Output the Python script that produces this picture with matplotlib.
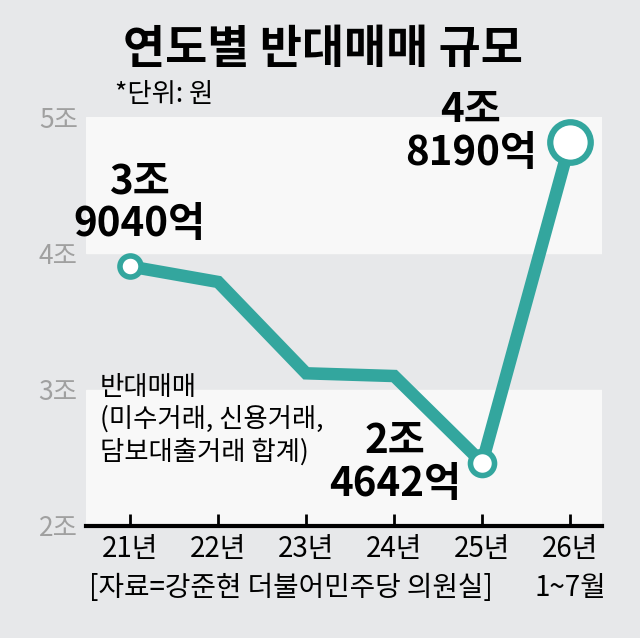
import matplotlib
matplotlib.use("Agg")
import matplotlib.pyplot as plt

plt.rcParams['font.family'] = ['Noto Sans CJK KR', 'DejaVu Sans']

# data (단위: 조원)
years = ["21년", "22년", "23년", "24년", "25년", "26년"]
values = [3.904, 3.79, 3.12, 3.10, 2.4642, 4.819]
yticks = [2, 3, 4, 5]
ytick_labels = ["2조", "3조", "4조", "5조"]

teal = "#33a69e"
bg = "#e7e8ea"
band = "#f8f8f8"

fig = plt.figure(figsize=(6.4, 6.38), dpi=100, facecolor=bg)
ax = fig.add_axes([86/640, 1-526/638, (602-86)/640, (526-117)/638])
ax.set_facecolor(bg)
ax.axhspan(2, 3, color=band, zorder=0)
ax.axhspan(4, 5, color=band, zorder=0)

x = list(range(len(years)))
ax.plot(x, values, color=teal, lw=9, solid_joinstyle="miter", zorder=3)
# end-point markers
ax.scatter([0], [values[0]], s=230, facecolor="white", edgecolor=teal, linewidth=4, zorder=4)
ax.scatter([4], [values[4]], s=300, facecolor="white", edgecolor=teal, linewidth=4, zorder=4)
ax.scatter([5], [values[5]], s=850, facecolor="white", edgecolor=teal, linewidth=4.5, zorder=4, clip_on=False)

ax.set_xlim(-0.5, 5.36)
ax.set_ylim(2, 5)
ax.set_xticks(x)
ax.set_xticklabels(years, fontsize=20)
ax.set_yticks(yticks)
ax.set_yticklabels(ytick_labels, fontsize=19, color="#a0a0a0")
ax.tick_params(axis="y", length=0, pad=6)
ax.tick_params(axis="x", direction="in", length=9, width=2, pad=6)
for s in ["top", "right", "left"]:
    ax.spines[s].set_visible(False)
ax.spines["bottom"].set_linewidth(3)

# value labels
ax.text(0.11, 4.37, "3조\n9040억", ha="center", va="center", fontsize=29,
        fontweight="bold", linespacing=1.05, zorder=5)
ax.text(3.87, 4.89, "4조\n8190억", ha="center", va="center", fontsize=29,
        fontweight="bold", linespacing=1.05, zorder=5, clip_on=False)
ax.text(3.01, 2.46, "2조\n4642억", ha="center", va="center", fontsize=29,
        fontweight="bold", linespacing=1.05, zorder=5)

ax.text(-0.34, 2.78, "반대매매\n(미수거래, 신용거래,\n담보대출거래 합계)", ha="left", va="center",
        fontsize=19, linespacing=1.22, zorder=5)

ax.text(-0.47, -62/409, "[자료=강준현 더불어민주당 의원실]", transform=ax.get_xaxis_transform(),
        ha="left", va="center", fontsize=20)
ax.text(5, -62/409, "1~7월", transform=ax.get_xaxis_transform(),
        ha="center", va="center", fontsize=20)

fig.text(323/640, 1-50/638, "연도별 반대매매 규모", ha="center", va="center",
         fontsize=33, fontweight="bold")
fig.text(115/640, 1-95/638, "*단위: 원", ha="left", va="center", fontsize=19)

fig.savefig("out.png", dpi=100, facecolor=bg)
